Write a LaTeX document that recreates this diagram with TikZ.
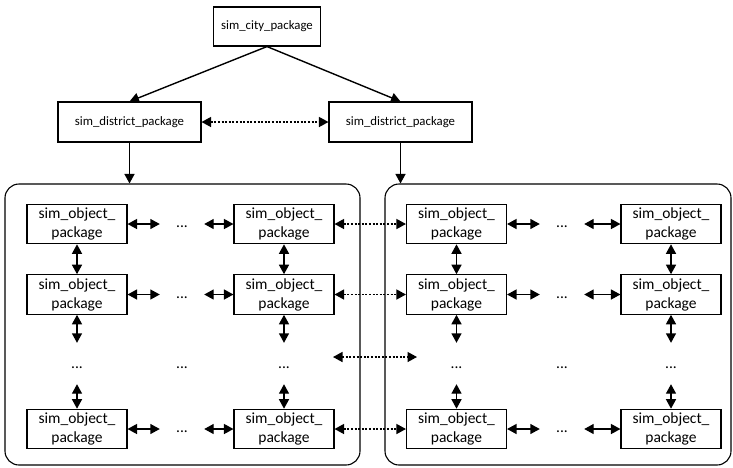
\documentclass[tikz,border=0pt]{standalone}
\usepackage{fontspec}
\setmainfont{Carlito}
\usetikzlibrary{arrows.meta}
\begin{document}
\begin{tikzpicture}[x=1pt,y=-1pt,
  pkg/.style={draw,line width=1.1pt,inner sep=0pt,font=\fontsize{12.8}{15}\selectfont},
  obj/.style={draw,line width=1.1pt,inner sep=0pt,minimum width=100pt,minimum height=39.5pt,
     align=center,font=\fontsize{15.5}{19}\selectfont},
  bigbox/.style={draw,line width=1.1pt,rounded corners=14pt,inner sep=0pt},
  dots/.style={inner sep=0pt,minimum width=44pt,text height=25pt,text depth=16pt,anchor=base,
     font=\fontsize{15.5}{19}\selectfont},
  tip/.tip={Triangle[length=9.5pt,width=10pt]},
  arr/.style={line width=1.4pt,-tip},
  darr/.style={line width=1.4pt,tip-tip},
  dotarr/.style={line width=1.4pt,dash pattern=on 2pt off 1.6pt,tip-tip}
]
\useasboundingbox (0,0) rectangle (733,467);

% top levels
\node[pkg,minimum width=107pt,minimum height=39pt] (city) at (267,26.5) {sim\_city\_package};
\node[pkg,minimum width=143pt,minimum height=40pt] (dl) at (129.5,122) {sim\_district\_package};
\node[pkg,minimum width=143pt,minimum height=40pt] (dr) at (400.5,122) {sim\_district\_package};

% big boxes
\node[bigbox,minimum width=355pt,minimum height=281pt] (bl) at (182.5,324.5) {};
\node[bigbox,minimum width=346pt,minimum height=281pt] (br) at (558,324.5) {};

% object boxes: rows 1,2,4
\foreach \n/\x in {a/77,b/284,c/456.5,d/671}{
  \node[obj] (\n1) at (\x,224) {sim\_object\_\\package};
  \node[obj] (\n2) at (\x,294.5) {sim\_object\_\\package};
  \node[obj] (\n4) at (\x,429) {sim\_object\_\\package};
  \node[dots] (\n3) at (\x,368) {...};
}
% horizontal dots
\node[dots] (l1) at (182,227.5) {...};
\node[dots] (l2) at (182,298) {...};
\node[dots] (l3) at (182,368) {...};
\node[dots] (l4) at (182,432.5) {...};
\node[dots] (r1) at (562,227.5) {...};
\node[dots] (r2) at (562,298) {...};
\node[dots] (r3) at (562,368) {...};
\node[dots] (r4) at (562,432.5) {...};

% top connectors
\draw[arr] (city.south) -- (dl.north);
\draw[arr] (city.south) -- (dr.north);
\draw[dotarr] (dl.east) -- (dr.west);
\draw[arr] (dl.south) -- (dl.south |- bl.north);
\draw[arr] (dr.south) -- (dr.south |- br.north);

% vertical connectors
\foreach \n in {a,b,c,d}{
  \draw[darr] (\n1.south) -- (\n2.north);
  \draw[darr] (\n2.south) -- (\n3.north);
  \draw[darr] (\n3.south) -- (\n4.north);
}
% horizontal connectors
\foreach \r in {1,2,4}{
  \draw[darr] (a\r.east) -- (l\r.west |- a\r.east);
  \draw[darr] (l\r.east |- b\r.west) -- (b\r.west);
  \draw[darr] (c\r.east) -- (r\r.west |- c\r.east);
  \draw[darr] (r\r.east |- d\r.west) -- (d\r.west);
  \draw[dotarr] (b\r.east) -- (c\r.west);
}
\coordinate (m3l) at (333,357);
\coordinate (m3r) at (417,357);
\draw[dotarr] (m3l) -- (m3r);
\end{tikzpicture}
\end{document}
